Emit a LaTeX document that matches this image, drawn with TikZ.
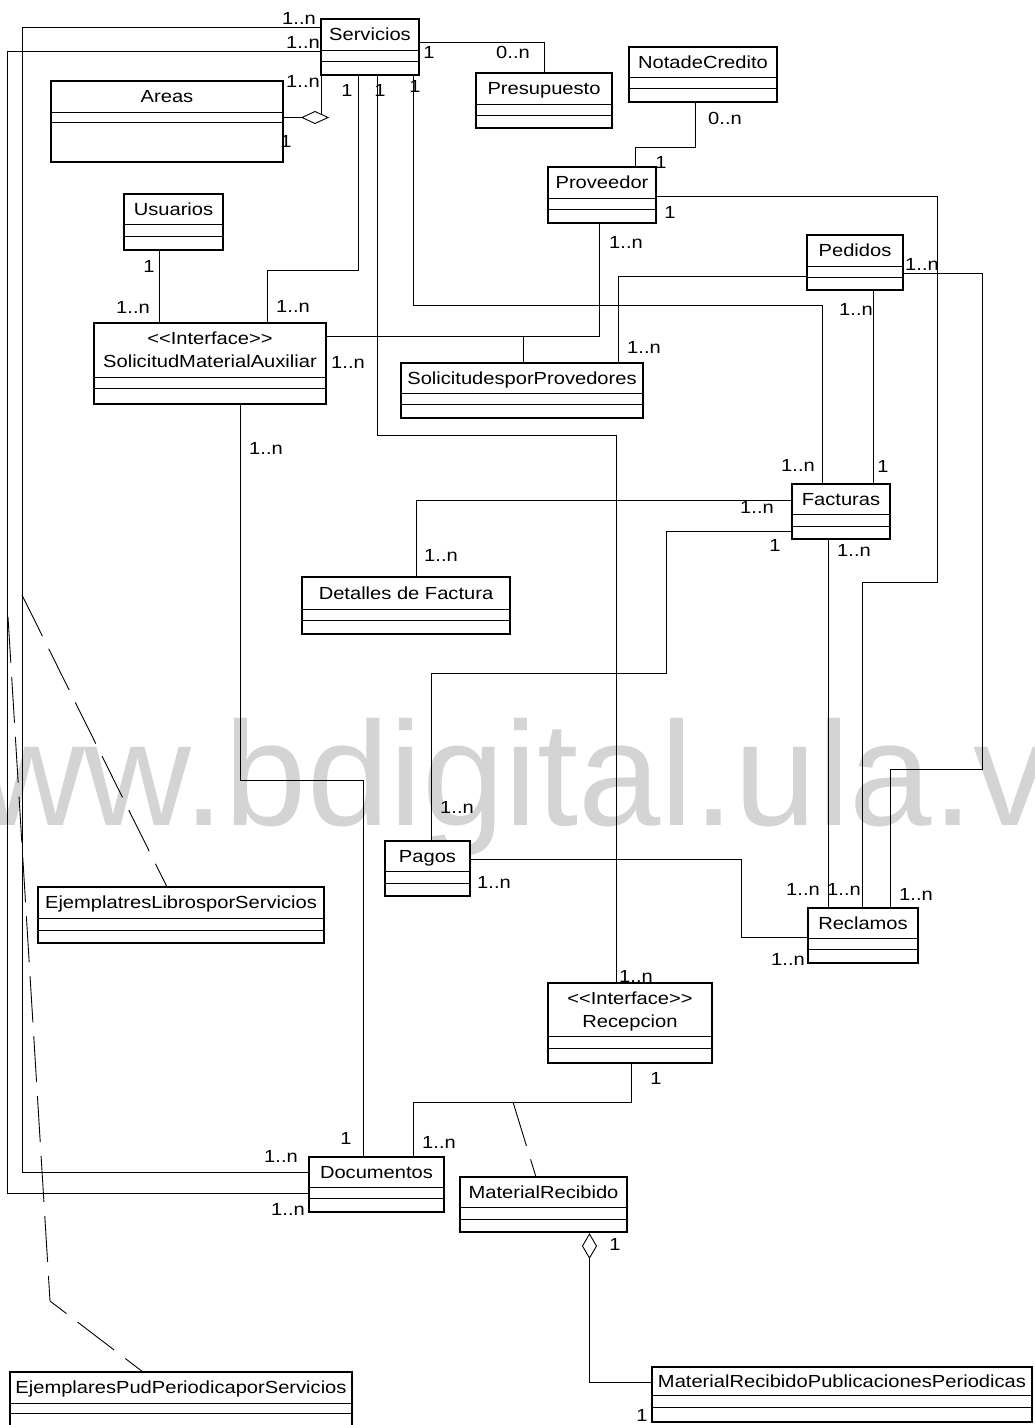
\documentclass[tikz,border=0pt]{standalone}
\usepackage{fontspec}
\setmainfont[FakeStretch=1.15]{Liberation Sans}
\newfontfamily\markfont{Liberation Sans}
\usetikzlibrary{shapes.geometric}

\tikzset{
  classbox/.style={rectangle, draw=black, line width=1.3pt, fill=white, inner sep=0pt, outer sep=0pt},
  divider/.style={line width=1pt},
  classname/.style={inner sep=0pt, text height=12.6pt, text depth=0pt, font=\fontsize{17.5}{23}\selectfont},
  mult/.style={inner sep=0pt, text height=12.6pt, text depth=0pt, font=\fontsize{17.5}{20}\selectfont},
  assoc/.style={line width=0.9pt},
  linkdash/.style={line width=0.9pt, dash pattern=on 46pt off 14pt},
  aggdiamond/.style={diamond, draw=black, fill=white, line width=0.9pt, inner sep=0pt, outer sep=0pt},
}

% UML class box with two empty compartments: name, x1, y1, x2, y2, first divider, second divider
\newcommand{\umlbox}[7]{%
  \node[classbox, minimum width={#4-#2}, minimum height={#5-#3}, anchor=north west] (#1) at (#2,#3) {};
  \draw[divider] (#1.west |- 0,#6) -- (#1.east |- 0,#6);
  \draw[divider] (#1.west |- 0,#7) -- (#1.east |- 0,#7);
}
% plain class: box plus centred title
\newcommand{\umlclass}[8]{%
  \umlbox{#1}{#2}{#3}{#4}{#5}{#6}{#7}
  \node[classname] (#1-title) at ({(#2+#4)/2},{(#3+#6)/2}) {#8};
}
% interface class: box plus stereotype line and title line
\newcommand{\umliface}[8]{%
  \umlbox{#1}{#2}{#3}{#4}{#5}{#6}{#7}
  \node[classname] (#1-stereo) at ({(#2+#4)/2},{#3+15}) {<\kern0pt<Interface>\kern0pt>};
  \node[classname] (#1-title) at ({(#2+#4)/2},{#3+38.5}) {#8};
}

\begin{document}
\begin{tikzpicture}[x=1pt, y=-1pt]
\useasboundingbox (0,0) rectangle (1035,1425);
\clip (0,0) rectangle (1035,1425);

% watermark behind the diagram
\node[anchor=base west, inner sep=0pt, text=black!17, font=\markfont\fontsize{148}{150}\selectfont] (mark) at (-129,825) {www.bdigital.ula.ve};

% classes
\umlclass{serv}{321}{19}{419}{75}{50}{61}{Servicios}
\umlclass{areas}{51}{81}{283}{162}{112}{122}{Areas}
\umlclass{pres}{476}{73}{612}{128}{104}{115}{Presupuesto}
\umlclass{nota}{629}{47}{777}{102}{77}{88}{NotadeCredito}
\umlclass{prov}{548}{167}{656}{223}{198}{209}{Proveedor}
\umlclass{usu}{124}{194}{223}{250}{224}{236}{Usuarios}
\umliface{sma}{94}{323}{326}{404}{377}{388}{SolicitudMaterialAuxiliar}
\umlclass{spp}{401}{363}{643}{418}{393}{404}{SolicitudesporProvedores}
\umlclass{ped}{807}{235}{903}{290}{266}{277}{Pedidos}
\umlclass{fac}{792}{484}{890}{539}{514}{526}{Facturas}
\umlclass{ddf}{302}{577}{510}{634}{609}{620}{Detalles de Factura}
\umlclass{pagos}{385}{841}{470}{896}{871}{883}{Pagos}
\umlclass{recl}{808}{908}{918}{963}{938}{949}{Reclamos}
\umlclass{ejl}{38}{887}{324}{943}{918}{930}{EjemplatresLibrosporServicios}
\umliface{recep}{548}{983}{712}{1063}{1036}{1048}{Recepcion}
\umlclass{doc}{309}{1157}{444}{1212}{1187}{1198}{Documentos}
\umlclass{mr}{460}{1177}{627}{1232}{1207}{1219}{MaterialRecibido}
\umlclass{ejp}{10}{1372}{352}{1428}{1403}{1413}{EjemplaresPudPeriodicaporServicios}
\umlclass{mrpp}{652}{1367}{1032}{1422}{1395}{1407}{MaterialRecibidoPublicacionesPeriodicas}

% aggregation diamonds
\node[aggdiamond, minimum width=26pt, minimum height=12pt] (agg1) at (315,117.5) {};
\node[aggdiamond, minimum width=14pt, minimum height=24pt] (agg2) at (589.5,1246) {};

% associations
\draw[assoc] (serv.west |- 0,27) -| (22,1172) -- (doc.west |- 0,1172);
\draw[assoc] (serv.west |- 0,51) -| (7,1193) -- (doc.west |- 0,1193);
\draw[assoc] (serv.east |- 0,42) -| (pres.north -| 544,0);
\draw[assoc] (areas.east |- agg1.west) -- (agg1.west);
\draw[assoc] (agg1.north east) -- (agg1.north east |- serv.south);
\draw[assoc] (serv.south -| 358,0) |- (267,270) -- (sma.north -| 267,0);
\draw[assoc] (serv.south -| 377,0) |- (616,435) -- (recep.north -| 616,0);
\draw[assoc] (serv.south -| 413,0) |- (822,305) -- (fac.north -| 822,0);
\draw[assoc] (usu.south -| 159,0) -- (sma.north -| 159,0);
\draw[assoc] (sma.east |- 0,336) -| (spp.north -| 523,0);
\draw[assoc] (prov.south -| 599,0) |- (523,336);
\draw[assoc] (nota.south -| 695,0) |- (635,147) -- (prov.north -| 635,0);
\draw[assoc] (prov.east |- 0,196) -| (937,582) -| (recl.north -| 862,0);
\draw[assoc] (ped.east |- 0,273) -| (982,769) -| (recl.north -| 890,0);
\draw[assoc] (ped.west |- 0,276) -| (spp.north -| 618,0);
\draw[assoc] (ped.south -| 873,0) -- (fac.north -| 873,0);
\draw[assoc] (fac.south -| 828,0) -- (recl.north -| 828,0);
\draw[assoc] (fac.west |- 0,500) -| (ddf.north -| 416,0);
\draw[assoc] (fac.west |- 0,531) -| (666,673) -| (pagos.north -| 431,0);
\draw[assoc] (pagos.east |- 0,859) -| (741,937) -- (recl.west |- 0,937);
\draw[assoc] (sma.south -| 240,0) |- (363,780) -- (doc.north -| 363,0);
\draw[assoc] (recep.south -| 631,0) |- (413,1102) -- (doc.north -| 413,0);
\draw[assoc] (agg2.south) |- (mrpp.west |- 0,1382);

% association-class links
\coordinate (docassoc) at (513,1102);
\draw[linkdash] (docassoc) -- (mr.north -| 536,0);
\coordinate (servdocA) at (22,595);
\draw[linkdash] (servdocA) -- (ejl.north -| 167,0);
\coordinate (servdocB) at (8,617);
\draw[linkdash] (servdocB) -- (50,1301) -- (ejp.north -| 143,0);

% multiplicities
\foreach \t/\x/\y [count=\i] in {
  1..n/299/18, 1..n/303/42, 1..n/303/81, 1/286/141, 1/429/52, 0..n/513/52,
  1/347/90, 1/380/90, 1/415/86, 0..n/725/118, 1/661/162, 1/670/212,
  1..n/626/242, 1/149/266, 1..n/133/307, 1..n/293/306, 1..n/348/362,
  1..n/922/264, 1..n/856/309, 1..n/644/347, 1..n/266/448, 1..n/798/465,
  1/883/466, 1..n/757/507, 1/775/545, 1..n/854/550, 1..n/441/555,
  1..n/457/807, 1..n/494/882, 1..n/803/889, 1..n/844/889, 1..n/916/894,
  1..n/788/959, 1..n/636/976, 1/656/1078, 1/346/1138, 1..n/439/1142,
  1..n/281/1156, 1..n/288/1209, 1/615/1244, 1/642/1415}
  \node[mult] (mult\i) at (\x,\y) {\t};
\end{tikzpicture}
\end{document}
